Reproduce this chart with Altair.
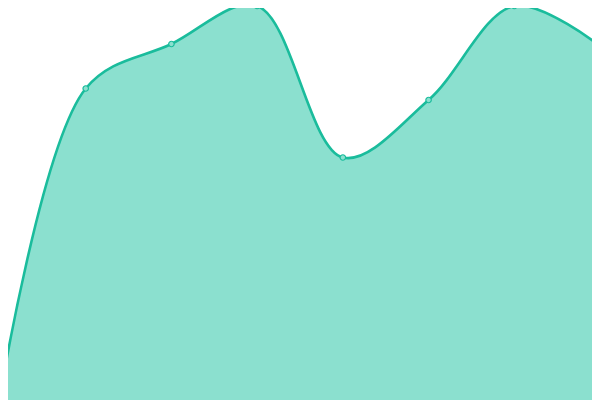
import altair as alt
import pandas as pd

# category index (evenly spaced points) and series values (height above bottom, px-scale units)
idx = [0, 1, 2, 3, 4, 5, 6, 7]
values = [3, 311.5, 356, 394, 242.5, 300, 394, 354]

df = pd.DataFrame({"i": idx, "v": values})

LINE = "#1abc9c"
FILL = "#8be0cf"

x = alt.X("i:Q", axis=None, scale=alt.Scale(domain=[0.09333, 6.90667], nice=False, zero=False))
y = alt.Y("v:Q", axis=None, scale=alt.Scale(domain=[0, 392], nice=False, zero=False))

base = alt.Chart(df)

area = base.mark_area(interpolate="catmull-rom", color=FILL, opacity=1).encode(
    x=x, y=y, y2=alt.value(392))
line = base.mark_line(interpolate="catmull-rom", color=LINE, strokeWidth=2.6).encode(x=x, y=y)
pts = base.mark_point(shape="circle", filled=True, size=30, fill="#8be0cf",
                      stroke=LINE, strokeWidth=1.2, opacity=1).encode(x=x, y=y)

chart = (area + line + pts).properties(
    width=584, height=392, padding=0, autosize=alt.AutoSizeParams(type="none")
).configure_view(strokeWidth=0)

chart.save("out.html", embed_options={"renderer": "svg", "actions": False})
